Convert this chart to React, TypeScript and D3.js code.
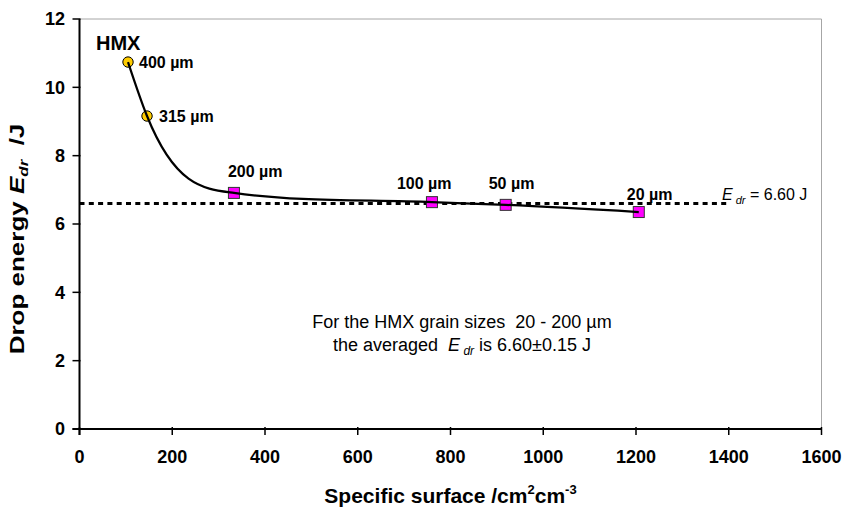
import React from "react";
import * as d3 from "d3";

const grainLabels = ["400 µm", "315 µm", "200 µm", "100 µm", "50 µm", "20 µm"];
const surfaceValues = [104.6, 145.6, 333, 760, 919, 1206];
const energyValues = [10.74, 9.16, 6.91, 6.64, 6.56, 6.35];
const markerKinds = ["circle", "circle", "square", "square", "square", "square"];
const xTicks = [0, 200, 400, 600, 800, 1000, 1200, 1400, 1600];
const yTicks = [0, 2, 4, 6, 8, 10, 12];
const averageEnergy = 6.6;

const W = 844;
const H = 508;
const left = 79.5;
const right = 821.5;
const top = 19;
const bottom = 429;

// monotone cubic Hermite (Fritsch–Carlson bound) through screen points
function smoothPath(p: [number, number][]): string {
  const n = p.length;
  const h: number[] = [];
  const s: number[] = [];
  for (let i = 0; i < n - 1; i++) {
    h.push(p[i + 1][0] - p[i][0]);
    s.push((p[i + 1][1] - p[i][1]) / h[i]);
  }
  const m: number[] = new Array(n).fill(0);
  for (let i = 1; i < n - 1; i++) {
    if (Math.sign(s[i - 1]) !== Math.sign(s[i])) {
      m[i] = 0;
      continue;
    }
    const pm = (s[i - 1] * h[i] + s[i] * h[i - 1]) / (h[i - 1] + h[i]);
    const bound = 3 * Math.min(Math.abs(s[i - 1]), Math.abs(s[i]));
    m[i] = Math.sign(pm) * Math.min(Math.abs(pm), bound);
  }
  m[0] = (3 * s[0] - m[1]) / 2;
  m[n - 1] = (3 * s[n - 2] - m[n - 2]) / 2;
  const path = d3.path();
  path.moveTo(p[0][0], p[0][1]);
  for (let i = 0; i < n - 1; i++) {
    const d = h[i] / 3;
    path.bezierCurveTo(p[i][0] + d, p[i][1] + m[i] * d, p[i + 1][0] - d, p[i + 1][1] - m[i + 1] * d, p[i + 1][0], p[i + 1][1]);
  }
  return path.toString();
}

export default function App() {
  const x = d3.scaleLinear().domain([0, 1600]).range([left, right]);
  const y = d3.scaleLinear().domain([0, 12]).range([bottom, top]);
  const pts = surfaceValues.map((s, i) => ({ s, e: energyValues[i], label: grainLabels[i], kind: markerKinds[i] }));
  const curveD = smoothPath(pts.map((d) => [x(d.s), y(d.e)] as [number, number]));

  const font = "'Liberation Sans', Arial, sans-serif";
  const labelOffsets: Record<string, [number, number]> = {
    "400 µm": [11, 6],
    "315 µm": [12, 6],
    "200 µm": [-6, -16],
    "100 µm": [-35, -13],
    "50 µm": [-17, -16],
    "20 µm": [-12, -12],
  };

  return (
    <svg width={W} height={H} style={{ position: "absolute", left: 0, top: 0 }} fontFamily={font}>
      <rect x={0} y={0} width={W} height={H} fill="#fff" />
      {/* frame */}
      <line x1={left} x2={right} y1={top} y2={top} stroke="#a6a6a6" strokeWidth={1} />
      <line x1={right} x2={right} y1={top} y2={bottom} stroke="#a6a6a6" strokeWidth={1} />
      {/* axes */}
      <line x1={left} x2={left} y1={top} y2={bottom + 6} stroke="#000" strokeWidth={2} />
      <line x1={left - 7} x2={right} y1={bottom} y2={bottom} stroke="#000" strokeWidth={2} />
      {yTicks.map((t) => (
        <g key={"y" + t}>
          <line x1={left - 7} x2={left + 1} y1={y(t)} y2={y(t)} stroke="#000" strokeWidth={1.5} />
          <text x={65} y={y(t)} dy="0.36em" textAnchor="end" fontSize={18} fontWeight="bold">
            {t}
          </text>
        </g>
      ))}
      {xTicks.map((t) => (
        <g key={"x" + t}>
          <line x1={x(t)} x2={x(t)} y1={bottom - 2} y2={bottom + 6} stroke="#000" strokeWidth={1.5} />
          <text x={x(t)} y={463} textAnchor="middle" fontSize={18} fontWeight="bold">
            {t}
          </text>
        </g>
      ))}
      {/* average line */}
      <line
        x1={left}
        x2={x(1400)}
        y1={y(averageEnergy)}
        y2={y(averageEnergy)}
        stroke="#000"
        strokeWidth={3}
        strokeDasharray="5 4.3"
      />
      <text x={722} y={200} fontSize={16} style={{ whiteSpace: "pre" }}>
        <tspan fontStyle="italic">E</tspan>
        <tspan fontStyle="italic" fontSize={11} dy={4}> dr</tspan>
        <tspan dy={-4}> = 6.60 J</tspan>
      </text>
      {/* markers */}
      {pts.map((p) =>
        p.kind === "circle" ? (
          <circle key={p.label} cx={x(p.s)} cy={y(p.e)} r={5.2} fill="#FFCC00" stroke="#000" strokeWidth={1} />
        ) : (
          <rect
            key={p.label}
            x={x(p.s) - 5.5}
            y={y(p.e) - 5.5}
            width={11}
            height={11}
            fill="#FF00FF"
            stroke="#333"
            strokeWidth={1}
          />
        )
      )}
      <path d={curveD} fill="none" stroke="#000" strokeWidth={2.2} />
      {pts.map((p) => (
        <text
          key={"l" + p.label}
          x={x(p.s) + labelOffsets[p.label][0]}
          y={y(p.e) + labelOffsets[p.label][1]}
          fontSize={16}
          fontWeight="bold"
        >
          {p.label}
        </text>
      ))}
      <text x={96} y={50} fontSize={20} fontWeight="bold">
        HMX
      </text>
      {/* annotation */}
      <text x={462} y={328} textAnchor="middle" fontSize={18} style={{ whiteSpace: "pre" }}>
        For the HMX grain sizes  20 - 200 µm
      </text>
      <text x={462} y={351} textAnchor="middle" fontSize={18} style={{ whiteSpace: "pre" }}>
        <tspan>the averaged  </tspan>
        <tspan fontStyle="italic">E</tspan>
        <tspan fontStyle="italic" fontSize={12} dy={4}> dr</tspan>
        <tspan dy={-4}> is 6.60±0.15 J</tspan>
      </text>
      {/* axis titles */}
      <text x={(left + right) / 2} y={503} textAnchor="middle" fontSize={21} fontWeight="bold">
        Specific surface /cm<tspan fontSize={13} dy={-9}>2</tspan>
        <tspan dy={9}>cm</tspan>
        <tspan fontSize={13} dy={-9}>-3</tspan>
      </text>
      <text
        transform={`translate(24, 239) rotate(-90) scale(1.3, 1)`}
        textAnchor="middle"
        fontSize={20}
        fontWeight="bold"
        style={{ whiteSpace: "pre" }}
      >
        <tspan>Drop energy </tspan>
        <tspan fontStyle="italic">E</tspan>
        <tspan fontStyle="italic" fontSize={13} dy={4}>dr</tspan>
        <tspan dy={-4}>  /J</tspan>
      </text>
    </svg>
  );
}
